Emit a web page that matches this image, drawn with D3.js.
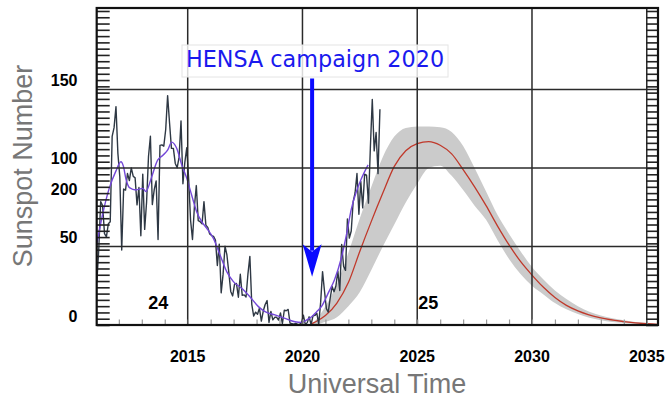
<!DOCTYPE html>
<html><head><meta charset="utf-8">
<script src="https://cdn.jsdelivr.net/npm/d3@7"></script>
<style>html,body{margin:0;padding:0;background:#fff}svg{display:block}</style>
</head><body>
<script>
// ---------------- DATA ----------------
const monthlyStartYear = 2011;
const monthlySSN = [
 27.3,48.3,78.6,76.1,58.2,56.1,64.5,65.8,120.1,125.7,139.1,109.3,
 94.4,47.8,86.6,85.9,96.5,92.0,100.1,94.8,93.7,76.5,87.6,56.8,
 96.1,60.9,78.3,107.3,120.2,76.7,86.2,91.8,54.5,114.4,114.7,113.9,
 124.5,146.1,128.8,112.5,112.5,102.9,100.2,106.9,130.0,90.0,103.6,112.9,
 93.0,66.7,54.5,75.3,88.8,66.5,65.8,64.4,78.6,63.6,62.2,58.0,
 57.0,56.4,54.1,37.9,51.5,20.5,32.4,50.2,44.6,33.4,21.4,18.5,
 26.1,26.4,17.7,32.3,18.9,19.2,17.8,32.6,43.7,13.2,5.7,8.2,
 6.8,10.7,2.5,8.9,13.1,15.6,1.6,8.7,3.3,4.9,4.9,3.1,
 7.7,0.8,9.4,9.1,9.9,1.2,0.9,0.5,1.1,0.4,0.5,1.5,
 6.2,0.2,1.5,5.2,0.2,5.8,6.1,7.5,0.6,14.4,34.0,21.8,
 10.4,8.2,17.2,24.5,21.2,25.0,34.3,22.0,51.3,37.4,34.8,67.5,
 55.3,59.9,78.5,84.1,96.5,70.5,91.4,74.6,96.0,95.5,77.6,113.1,
 143.6,110.9,122.6,96.4,137.4
];
const smoothYears = [2010.9,2011.3,2011.58,2011.87,2012.09,2012.2,2012.31,2012.46,2012.75,2013.04,2013.18,2013.4,2013.69,2013.91,2014.13,2014.3,2014.52,2014.74,2014.96,2015.17,2015.39,2015.61,2015.83,2016.12,2016.41,2016.7,2016.99,2017.35,2017.71,2018.08,2018.37,2018.8,2019.24,2019.67,2019.97,2020.19,2020.4,2020.62,2020.84,2021.11,2021.4,2021.69,2021.91,2022.13,2022.35,2022.56,2022.86];
const smoothSSN = [40,71,87,98,104,101,93,87.5,86,87,85,93,105,108,111.5,116.5,112.6,102,93.4,82.8,72.2,65.8,61.6,55.2,44.6,34,27.6,23.4,18,11.7,8.5,6.4,4.2,2.1,1.7,3.2,5.3,8.5,12,20,29,42.5,57,74,85,93,102];
const predYears = [2020.3,2020.5,2021.0,2021.5,2022.0,2022.5,2023.0,2023.5,2024.0,2024.5,2025.0,2025.5,2026.0,2026.5,2027.0,2027.5,2028.0,2028.5,2029.0,2029.5,2030.0,2030.5,2031.0,2031.5,2032.0,2033.0,2034.0,2035.0,2035.6];
const predMedian = [0,1.5,6,14,27,47,66,84,101,111,115.5,116.8,114.5,109,99,88,76,63,51,40.5,31.8,24,17.5,12.5,9,4.5,2.2,0.8,0.4];
const predUpper  = [0,2,12,26,46,68,88,107,120,125.5,126.5,126.5,126,123,114,100,85,70,58,47,37,29,22,16.5,12,6,3,1.2,0.6];
const predLower  = [0,0,2,5,12,21,35,50,64,78,90,100,101.5,95,86,76,67,54,42,32.5,25,19.5,14,10,7,3,1.3,0.5,0.3];
const xTickYears = [2015,2020,2025,2030,2035];
const xTickLabels = ["2015","2020","2025","2030","2035"];
const yTickValues = [0,50,100,150];
const yTickLabels = ["0","50","100","150"];
const strayLabel = {text:"200", value:80.5};
const cycleLabels = [{text:"24", year:2013.72, value:10.2},{text:"25", year:2025.48, value:10.2}];
const campaign = {text:"HENSA campaign 2020", year:2020.42, from:157, to:30.8};
const xTitle = "Universal Time";
const yTitle = "Sunspot Number";

// ---------------- CHART ----------------
const W = 666, H = 399;
const L = 96.7, R = 658, T = 8, B = 325;
const svg = d3.select("body").append("svg").attr("width", W).attr("height", H);
const x = d3.scaleLinear().domain([2011.035, 2035.49]).range([L, R]);
const y = d3.scaleLinear().domain([0, 201.9]).range([B, T]);

svg.append("defs").append("clipPath").attr("id","clip")
  .append("rect").attr("x",L).attr("y",T).attr("width",R-L).attr("height",B-T);

const plot = svg.append("g").attr("clip-path","url(#clip)");

// prediction band
plot.append("path")
  .datum(predYears.map((t,i)=>[t,predLower[i],predUpper[i]]))
  .attr("fill","#cbcbcb")
  .attr("d", d3.area().x(d=>x(d[0])).y0(d=>y(d[1])).y1(d=>y(d[2])).curve(d3.curveMonotoneX));

// grid lines
const grid = svg.append("g").attr("stroke","#2a2a2a").attr("stroke-width",1.5);
xTickYears.forEach(t=>{
  grid.append("line").attr("x1",x(t)).attr("x2",x(t)).attr("y1",T).attr("y2",B);
});
yTickValues.filter(v=>v>0).forEach(v=>{
  grid.append("line").attr("x1",L).attr("x2",R).attr("y1",y(v)).attr("y2",y(v));
});

// minor x ticks (yearly)
const xAxisMinor = d3.axisBottom(x).tickValues(d3.range(2012, 2036, 1)).tickSize(-5.5).tickFormat("");
const gx = svg.append("g").attr("transform",`translate(0,${B})`).call(xAxisMinor);
gx.select(".domain").remove();
gx.selectAll("line").attr("stroke","#999").attr("stroke-width",1.2);

// dense y ticks on left and right
const yMinor = d3.range(0, 202, 4);
const gl = svg.append("g").attr("transform",`translate(${L},0)`)
  .call(d3.axisRight(y).tickValues(yMinor).tickSize(13).tickFormat(""));
gl.select(".domain").remove();
gl.selectAll("line").attr("stroke","#222").attr("stroke-width",1.6);
const gr = svg.append("g").attr("transform",`translate(${R},0)`)
  .call(d3.axisLeft(y).tickValues(yMinor).tickSize(12).tickFormat(""));
gr.select(".domain").remove();
gr.selectAll("line").attr("stroke","#222").attr("stroke-width",1.6);

// median prediction
plot.append("path")
  .datum(predYears.map((t,i)=>[t,predMedian[i]]))
  .attr("fill","none").attr("stroke","#c0392b").attr("stroke-width",1.3)
  .attr("d", d3.line().x(d=>x(d[0])).y(d=>y(d[1])).curve(d3.curveMonotoneX));

// monthly sunspot numbers
plot.append("path")
  .datum(monthlySSN.map((v,i)=>[monthlyStartYear + (i+0.5)/12, v]))
  .attr("fill","none").attr("stroke","#2e3844").attr("stroke-width",1.4)
  .attr("stroke-linejoin","round")
  .attr("d", d3.line().x(d=>x(d[0])).y(d=>y(d[1])));

// smoothed
plot.append("path")
  .datum(smoothYears.map((t,i)=>[t,smoothSSN[i]]))
  .attr("fill","none").attr("stroke","#7448d8").attr("stroke-width",1.4)
  .attr("d", d3.line().x(d=>x(d[0])).y(d=>y(d[1])).curve(d3.curveMonotoneX));

// frame
svg.append("rect").attr("x",L).attr("y",T).attr("width",R-L).attr("height",B-T)
  .attr("fill","none").attr("stroke","#111").attr("stroke-width",2.2);

// tick labels
const lab = svg.append("g").attr("font-family","'Liberation Sans', Arial, sans-serif")
  .attr("font-weight","bold").attr("font-size",16).attr("fill","#000");
xTickYears.forEach((t,i)=>{
  lab.append("text").attr("x",x(t)).attr("y",362).attr("text-anchor","middle").text(xTickLabels[i]);
});
yTickValues.forEach((v,i)=>{
  lab.append("text").attr("x",77.5).attr("y",y(v)-3.5).attr("text-anchor","end").text(yTickLabels[i]);
});
lab.append("text").attr("x",77.5).attr("y",y(strayLabel.value)-3.5).attr("text-anchor","end").text(strayLabel.text);
cycleLabels.forEach(c=>{
  lab.append("text").attr("x",x(c.year)).attr("y",y(c.value)).attr("text-anchor","middle")
    .attr("font-size",18).text(c.text);
});

// axis titles
svg.append("text").attr("x",377).attr("y",393).attr("text-anchor","middle")
  .attr("font-family","'Liberation Sans', Arial, sans-serif").attr("font-size",27).attr("fill","#777")
  .text(xTitle);
svg.append("text").attr("transform","translate(32,166) rotate(-90)").attr("text-anchor","middle")
  .attr("font-family","'Liberation Sans', Arial, sans-serif").attr("font-size",27).attr("fill","#777")
  .text(yTitle);

// campaign annotation
const ax = x(campaign.year), tipY = y(campaign.to);
svg.append("line").attr("x1",ax).attr("x2",ax).attr("y1",y(campaign.from)).attr("y2",tipY-26)
  .attr("stroke","#0a0aff").attr("stroke-width",4);
svg.append("path")
  .attr("d",`M${ax},${tipY} L${ax-9.5},${tipY-32.5} L${ax},${tipY-25} L${ax+9.5},${tipY-32.5} Z`)
  .attr("fill","#0a0aff");
svg.append("rect").attr("x",182).attr("y",45).attr("width",266).attr("height",32)
  .attr("fill","#fff").attr("fill-opacity",0.82).attr("stroke","#e4e4e4").attr("stroke-width",1);
svg.append("text").attr("x",315).attr("y",67).attr("text-anchor","middle")
  .attr("font-family","'DejaVu Sans', sans-serif").attr("font-size",22.3).attr("fill","#1a1aee")
  .text(campaign.text);
</script>
</body></html>
